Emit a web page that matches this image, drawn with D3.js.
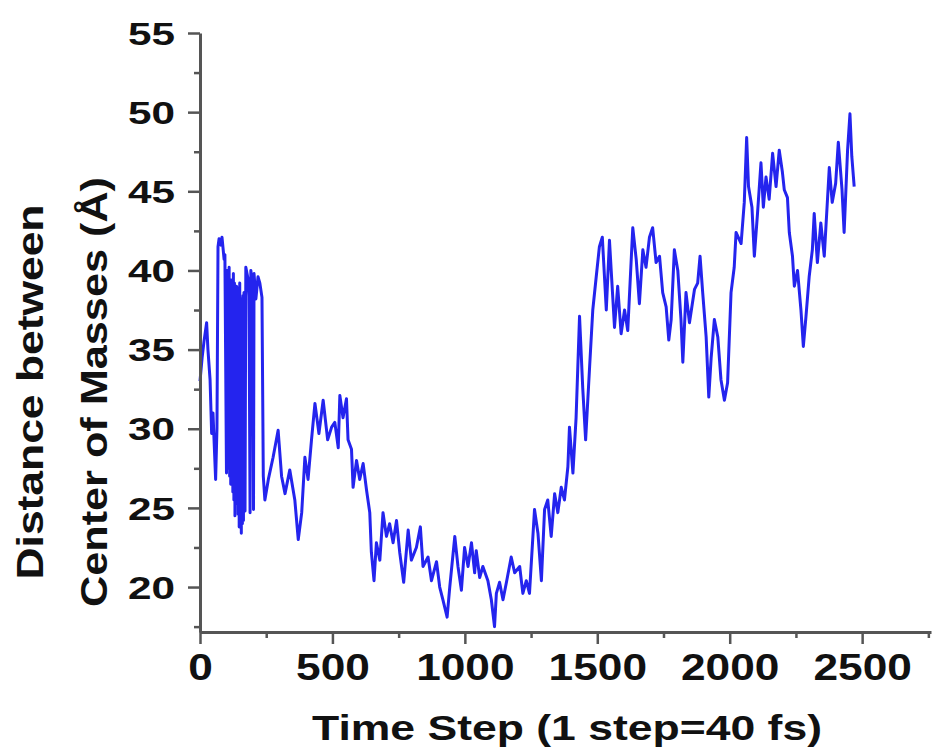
<!DOCTYPE html>
<html>
<head>
<meta charset="utf-8">
<script src="https://cdn.jsdelivr.net/npm/d3@7"></script>
<style>
  body { margin: 0; background: #fff; }
  text { font-family: "Liberation Sans", Arial, sans-serif; font-weight: bold; fill: #111; }
</style>
</head>
<body>
<script>
// time steps and centre-of-mass distances
const steps = [
    0, 8, 15, 25, 30, 38, 44, 49, 59, 64, 68, 72, 79, 83, 91, 94,
    100, 102, 104, 106, 108, 110, 112, 114, 116, 118, 120, 122, 124, 126, 128, 130, 132, 134, 136, 138,
    140, 142, 144, 146, 148, 150, 152, 154, 156, 158, 160, 162, 164, 166, 168, 170, 173, 181, 185, 189,
    192, 200, 202, 204, 211, 219, 226, 234, 239, 245, 258, 276, 295, 308, 321, 339, 358, 371, 384, 396,
    408, 421, 434, 449, 465, 482, 497, 509, 522, 528, 540, 553, 559, 572, 578, 591, 603, 616, 629, 641,
    647, 657, 666, 679, 691, 704, 716, 729, 742, 754, 769, 786, 798, 817, 832, 842, 861, 874, 893, 905,
    917, 933, 943, 962, 974, 987, 999, 1012, 1025, 1037, 1043, 1056, 1068, 1087, 1100, 1112, 1119, 1131, 1144, 1157,
    1175, 1188, 1207, 1219, 1232, 1244, 1263, 1276, 1289, 1301, 1313, 1326, 1339, 1351, 1364, 1376, 1389, 1395, 1408, 1420,
    1433, 1445, 1456, 1471, 1483, 1496, 1508, 1519, 1534, 1546, 1565, 1577, 1590, 1603, 1615, 1634, 1647, 1659, 1672, 1684,
    1697, 1709, 1722, 1735, 1747, 1760, 1770, 1779, 1791, 1804, 1816, 1823, 1835, 1848, 1867, 1879, 1888, 1898, 1911, 1921,
    1930, 1942, 1955, 1967, 1980, 1992, 2005, 2017, 2024, 2043, 2055, 2064, 2071, 2084, 2093, 2105, 2118, 2127, 2137, 2149,
    2162, 2175, 2187, 2199, 2206, 2218, 2225, 2237, 2244, 2256, 2269, 2278, 2288, 2300, 2312, 2319, 2331, 2344, 2357, 2376,
    2387, 2400, 2410, 2424, 2432, 2445, 2454, 2461, 2470
];
const distances = [
    33.0, 34.5, 35.5, 36.7, 35.0, 33.1, 29.7, 31.0, 26.8, 30.0, 41.5, 42.0, 41.6, 42.1, 40.7, 41.0,
    27.2, 40.0, 27.5, 39.6, 27.8, 40.2, 27.0, 38.0, 26.5, 39.4, 27.2, 39.0, 26.0, 39.8, 25.5, 39.2, 24.5, 38.8, 25.8, 39.0,
    25.3, 38.5, 24.6, 38.9, 23.8, 39.2, 24.3, 38.2, 23.4, 38.0, 24.0, 38.4, 24.2, 38.6, 25.0, 24.8, 40.2, 39.5, 38.4, 24.7,
    40.0, 38.8, 24.9, 39.8, 38.2, 39.6, 39.2, 38.3, 27.0, 25.5, 26.8, 28.2, 29.9, 27.0, 25.9, 27.4, 25.5, 23.0, 24.7, 28.2,
    26.8, 29.3, 31.6, 29.7, 31.8, 29.3, 30.1, 30.4, 28.8, 32.1, 30.7, 31.9, 29.3, 28.7, 26.3, 28.0, 26.8, 27.8, 26.1, 24.7,
    22.2, 20.4, 22.8, 21.7, 24.7, 23.2, 24.0, 22.8, 24.2, 22.2, 20.3, 23.6, 21.7, 22.5, 23.8, 21.3, 21.9, 20.4, 21.6, 20.0,
    19.2, 18.1, 20.0, 23.2, 21.3, 19.8, 22.5, 21.3, 22.8, 20.9, 22.3, 20.6, 21.3, 20.4, 19.2, 17.5, 19.6, 20.3, 19.2, 20.3,
    21.9, 20.9, 21.3, 19.6, 20.4, 19.6, 24.9, 23.4, 20.4, 24.9, 25.5, 23.2, 25.9, 24.7, 26.3, 25.5, 27.6, 30.1, 27.2, 30.7,
    37.1, 32.6, 29.3, 33.9, 37.5, 39.6, 41.5, 42.1, 37.5, 41.9, 36.4, 39.0, 36.0, 37.5, 36.2, 42.7, 40.7, 37.9, 41.3, 40.2,
    42.1, 42.7, 40.5, 40.9, 38.6, 37.7, 35.6, 36.9, 41.3, 40.0, 36.9, 34.2, 38.6, 36.7, 38.8, 39.2, 40.9, 38.6, 35.8, 32.0,
    34.5, 36.9, 35.8, 33.1, 31.8, 32.9, 38.6, 40.2, 42.4, 41.7, 44.3, 48.4, 45.3, 44.0, 40.9, 43.6, 46.8, 44.0, 45.9, 44.5,
    47.4, 45.3, 47.6, 46.2, 45.1, 44.6, 42.4, 40.9, 39.0, 40.0, 37.5, 35.2, 37.1, 39.6, 41.3, 43.6, 40.5, 43.0, 40.9, 46.5,
    44.3, 45.5, 48.1, 45.1, 42.4, 47.6, 49.9, 47.2, 45.3
];

const xTicks = [0, 500, 1000, 1500, 2000, 2500];
const xMinor = [250, 750, 1250, 1750, 2250, 2750];
const yTicks = [20, 25, 30, 35, 40, 45, 50, 55];
const yMinor = [17.5, 22.5, 27.5, 32.5, 37.5, 42.5, 47.5, 52.5];

const xTitle = "Time Step (1 step=40 fs)";
const yTitle1 = "Distance between";
const yTitle2 = "Center of Masses (Å)";

const width = 932, height = 750;
const axisColor = "#555";

const svg = d3.select("body").append("svg")
    .attr("width", width)
    .attr("height", height);

svg.append("rect").attr("width", width).attr("height", height).attr("fill", "#fff");

const x = d3.scaleLinear().domain([0, 2760]).range([200, 931]);
const y = d3.scaleLinear().domain([17.16, 55]).range([632, 33]);

// the trace
const points = steps.map((s, i) => [s, distances[i]]);
const line = d3.line()
    .x(d => x(d[0]))
    .y(d => y(d[1]));

svg.append("path")
    .datum(points)
    .attr("fill", "none")
    .attr("stroke", "#2424ee")
    .attr("stroke-width", 3)
    .attr("stroke-linejoin", "round")
    .attr("d", line);

// axes
function styleAxis(g) {
    g.select(".domain").attr("stroke", axisColor).attr("stroke-width", 3);
    g.selectAll(".tick line").attr("stroke", axisColor).attr("stroke-width", 2.5);
}

const yAxis = svg.append("g")
    .attr("transform", "translate(200,0)")
    .call(d3.axisLeft(y).tickValues(yTicks).tickSize(12).tickSizeOuter(0).tickPadding(13))
    .call(styleAxis);
yAxis.selectAll(".tick text")
    .attr("font-size", 31)
    .attr("fill", "#111")
    .attr("font-family", "'Liberation Sans', Arial, sans-serif")
    .attr("font-weight", "bold")
    .attr("dy", "0.36em")
    .attr("textLength", 47)
    .attr("lengthAdjust", "spacingAndGlyphs");

svg.append("g")
    .attr("transform", "translate(200,0)")
    .call(d3.axisLeft(y).tickValues(yMinor).tickSize(6).tickFormat(""))
    .call(styleAxis)
    .select(".domain").remove();

const xAxis = svg.append("g")
    .attr("transform", "translate(0,632)")
    .call(d3.axisBottom(x).tickValues(xTicks).tickFormat(d3.format("d"))
        .tickSize(12).tickSizeOuter(0).tickPadding(10))
    .call(styleAxis);
xAxis.selectAll(".tick text")
    .attr("font-size", 36)
    .attr("fill", "#111")
    .attr("font-family", "'Liberation Sans', Arial, sans-serif")
    .attr("font-weight", "bold")
    .attr("textLength", d => String(d).length * 24.6)
    .attr("lengthAdjust", "spacingAndGlyphs");

svg.append("g")
    .attr("transform", "translate(0,632)")
    .call(d3.axisBottom(x).tickValues(xMinor).tickSize(6).tickFormat(""))
    .call(styleAxis)
    .select(".domain").remove();

// titles
svg.append("text")
    .attr("x", 567)
    .attr("y", 740)
    .attr("text-anchor", "middle")
    .attr("font-size", 35)
    .attr("textLength", 510)
    .attr("lengthAdjust", "spacingAndGlyphs")
    .text(xTitle);

svg.append("text")
    .attr("transform", "translate(43,392) rotate(-90)")
    .attr("text-anchor", "middle")
    .attr("font-size", 36)
    .attr("textLength", 375)
    .attr("lengthAdjust", "spacingAndGlyphs")
    .text(yTitle1);

svg.append("text")
    .attr("transform", "translate(107,392) rotate(-90)")
    .attr("text-anchor", "middle")
    .attr("font-size", 36)
    .attr("textLength", 430)
    .attr("lengthAdjust", "spacingAndGlyphs")
    .text(yTitle2);
</script>
</body>
</html>
